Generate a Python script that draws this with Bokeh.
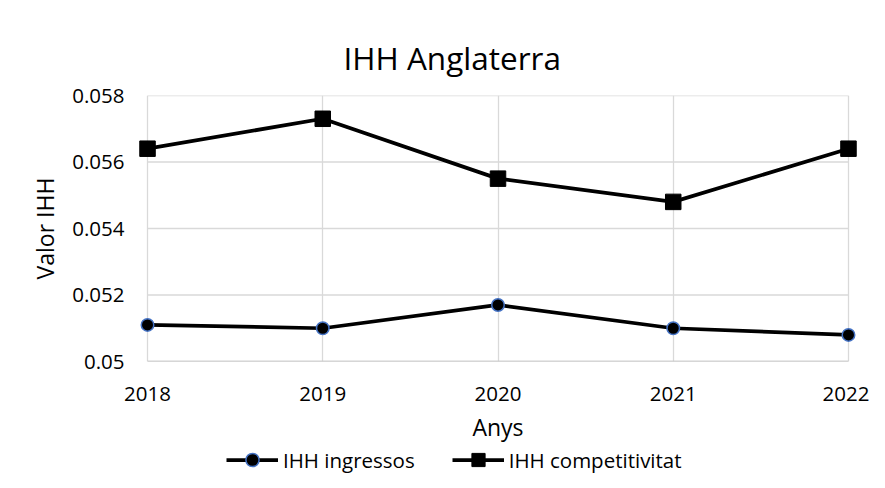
from bokeh.plotting import figure
from bokeh.layouts import column
from bokeh.models import Range1d, FixedTicker, Legend, LegendItem
from bokeh.embed import file_html
from bokeh.resources import INLINE

years = [2018, 2019, 2020, 2021, 2022]
ihh_ingressos = [0.0511, 0.0510, 0.0517, 0.0510, 0.0508]
ihh_competitivitat = [0.0564, 0.0573, 0.0555, 0.0548, 0.0564]
y_ticks = [0.05, 0.052, 0.054, 0.056, 0.058]
y_tick_labels = ["0.05", "0.052", "0.054", "0.056", "0.058"]
x_tick_labels = ["2018", "2019", "2020", "2021", "2022"]
series_names = ["IHH ingressos", "IHH competitivitat"]

FONT = "Open Sans"
GRID = "#d9d9d9"
BLUE = "#4472C4"
pad = 0.08

p = figure(frame_width=729, frame_height=266, output_backend="svg", toolbar_location=None,
           x_range=Range1d(years[0] - pad, years[-1] + pad),
           y_range=Range1d(y_ticks[0], y_ticks[-1]),
           min_border_left=133, min_border_right=7,
           min_border_top=95, min_border_bottom=80)
p.outline_line_color = None
p.background_fill_color = "white"
p.border_fill_color = "white"

p.title.text = "IHH Anglaterra"
p.title.align = "left"
p.title.offset = 210
p.title.standoff = 34
p.title.text_font = FONT
p.title.text_font_size = "31.5px"
p.title.text_font_style = "normal"
p.title.text_color = "black"

# grid
p.xgrid.ticker = FixedTicker(ticks=years)
p.xgrid.grid_line_color = GRID
p.xgrid.grid_line_width = 1.3
p.ygrid.visible = False
p.segment(x0=[years[0]] * len(y_ticks), x1=[years[-1]] * len(y_ticks),
          y0=y_ticks, y1=y_ticks, line_color=GRID, line_width=1.3)
p.segment(x0=[years[0]], x1=[years[-1]], y0=[y_ticks[0]], y1=[y_ticks[0]],
          line_color="#bfbfbf", line_width=1.3)

# axes
p.xaxis.ticker = FixedTicker(ticks=years)
p.xaxis.major_label_overrides = {y: l for y, l in zip(years, x_tick_labels)}
p.xaxis.axis_label = "Anys"
p.yaxis.ticker = FixedTicker(ticks=y_ticks)
p.yaxis.major_label_overrides = {y: l for y, l in zip(y_ticks, y_tick_labels)}
p.yaxis.axis_label = "Valor IHH"
for ax in (p.xaxis[0], p.yaxis[0]):
    ax.axis_line_color = None
    ax.major_tick_line_color = None
    ax.minor_tick_line_color = None
    ax.major_tick_out = 0
    ax.major_label_text_font = FONT
    ax.major_label_text_font_size = "20.5px"
    ax.major_label_text_color = "black"
    ax.axis_label_text_font = FONT
    ax.axis_label_text_font_size = "23px"
    ax.axis_label_text_font_style = "normal"
    ax.axis_label_text_color = "black"
p.xaxis.major_label_standoff = 25
p.xaxis.axis_label_standoff = 7
p.yaxis.major_label_standoff = 9
p.yaxis.axis_label_standoff = 8


def draw_series(fig):
    l1 = fig.line(years, ihh_ingressos, line_width=3.75, line_color="black")
    s1 = fig.scatter(years, ihh_ingressos, marker="circle", size=12.5,
                     fill_color="black", line_color=BLUE, line_width=1.5)
    l2 = fig.line(years, ihh_competitivitat, line_width=3.75, line_color="black")
    s2 = fig.scatter(years, ihh_competitivitat, marker="square", size=15.5,
                     fill_color="black", line_color="black", line_width=1)
    return (l1, s1), (l2, s2)


draw_series(p)

# legend strip below the chart (its own renderers fall outside its ranges)
pl = figure(width=869, height=40, output_backend="svg", toolbar_location=None,
            x_range=Range1d(0, 1), y_range=Range1d(0, 1),
            x_axis_type=None, y_axis_type=None,
            min_border_left=0, min_border_right=0, min_border_top=0, min_border_bottom=0)
pl.title.visible = False
pl.outline_line_color = None
pl.xgrid.visible = False
pl.ygrid.visible = False
pl.background_fill_color = "white"
pl.border_fill_color = "white"
r_ing, r_comp = draw_series(pl)

legend = Legend(items=[LegendItem(label=series_names[0], renderers=list(r_ing)),
                       LegendItem(label=series_names[1], renderers=list(r_comp))],
                orientation="horizontal", location=(93, 9),
                glyph_width=52, glyph_height=33, label_standoff=5, spacing=37,
                padding=0, margin=0, border_line_color=None,
                background_fill_alpha=0,
                label_text_font=FONT, label_text_font_size="20.5px",
                label_text_color="black")
pl.add_layout(legend, "center")

layout = column(p, pl, spacing=0)
open("out.html", "w").write(file_html(layout, INLINE))
